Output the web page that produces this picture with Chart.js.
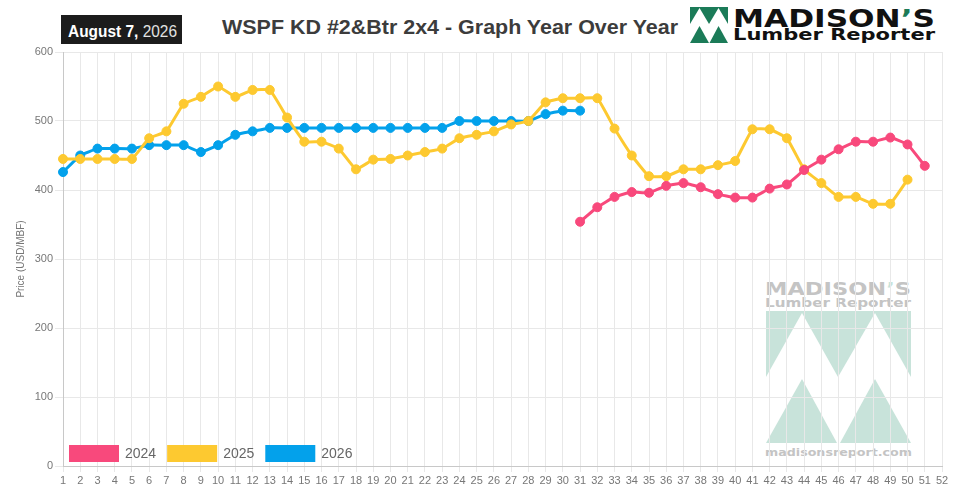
<!DOCTYPE html>
<html>
<head>
<meta charset="utf-8">
<script src="https://cdn.jsdelivr.net/npm/chart.js@4.4.1/dist/chart.umd.min.js"></script>
<style>
  html, body { margin: 0; padding: 0; background: #ffffff; }
  #wrap { position: relative; width: 960px; height: 496px; overflow: hidden; }
  #overlay { position: absolute; left: 0; top: 0; width: 960px; height: 496px; z-index: 0; }
  #chartBox { position: absolute; left: 0; top: 0; width: 960px; height: 496px; z-index: 1; }
</style>
</head>
<body>
<div id="wrap">
  <svg id="overlay" width="960" height="496" viewBox="0 0 960 496" xmlns="http://www.w3.org/2000/svg">
    <!-- date badge -->
    <rect x="61" y="15" width="121" height="29" fill="#1c1c1c"/>
    <text x="68" y="36.5" font-family="Liberation Sans, Arial, sans-serif" font-size="16.5" fill="#ffffff" textLength="109" lengthAdjust="spacingAndGlyphs"><tspan font-weight="bold">August 7,</tspan><tspan fill="#e2e2e2"> 2026</tspan></text>
    <!-- title -->
    <text x="222" y="34" font-family="Liberation Sans, Arial, sans-serif" font-size="21" font-weight="bold" fill="#3c3c3c" textLength="456" lengthAdjust="spacingAndGlyphs">WSPF KD #2&amp;Btr 2x4 - Graph Year Over Year</text>
    <!-- header logo icon -->
    <g>
      <rect x="690" y="7" width="38" height="17" fill="#1b7b58"/>
      <polygon points="690,24 699.5,8 709,24" fill="#ffffff"/>
      <polygon points="709,24 718.5,8 728,24" fill="#ffffff"/>
      <polygon points="690,43 699.5,26 709,43" fill="#1b7b58"/>
      <polygon points="709.5,43 718.5,26 728,43" fill="#1b7b58"/>
    </g>
    <text x="733" y="27" font-family="DejaVu Sans, sans-serif" font-size="25" font-weight="bold" fill="#111" textLength="202" lengthAdjust="spacingAndGlyphs">MADISON<tspan fill="#1b7b58">’</tspan>S</text>
    <text x="733" y="40" font-family="DejaVu Sans, sans-serif" font-size="16" font-weight="bold" fill="#111" textLength="202" lengthAdjust="spacingAndGlyphs">Lumber Reporter</text>
    <!-- watermark -->
    <g>
      <text x="765" y="295" font-family="DejaVu Sans, sans-serif" font-size="17" font-weight="bold" fill="#c4c4c4" textLength="146" lengthAdjust="spacingAndGlyphs">MADISON<tspan fill="#c8e3da">’</tspan>S</text>
      <text x="765" y="307" font-family="DejaVu Sans, sans-serif" font-size="12" font-weight="bold" fill="#c4c4c4" textLength="146" lengthAdjust="spacingAndGlyphs">Lumber Reporter</text>
      <rect x="766" y="311" width="145" height="66" fill="#c8e3da"/>
      <polygon points="766,377 802,313 838,377" fill="#ffffff"/>
      <polygon points="838,377 875,313 911,377" fill="#ffffff"/>
      <polygon points="766,443 802,379 837,443" fill="#c8e3da"/>
      <polygon points="840,443 875,379 911,443" fill="#c8e3da"/>
      <line x1="838.5" y1="378" x2="838.5" y2="443" stroke="#c8e3da" stroke-width="1"/>
      <text x="765" y="456" font-family="DejaVu Sans, sans-serif" font-size="11" font-weight="bold" fill="#c4c4c4" textLength="147" lengthAdjust="spacingAndGlyphs">madisonsreport.com</text>
    </g>
  </svg>
  <div id="chartBox"><canvas id="c"></canvas></div>
</div>
<script>
// ---- data ----
const weeks = ["1","2","3","4","5","6","7","8","9","10","11","12","13","14","15","16","17","18","19","20","21","22","23","24","25","26","27","28","29","30","31","32","33","34","35","36","37","38","39","40","41","42","43","44","45","46","47","48","49","50","51","52"];

const yearLabels = ["2024", "2025", "2026"];

const values2024 = [null,null,null,null,null,null,null,null,null,null,
                    null,null,null,null,null,null,null,null,null,null,
                    null,null,null,null,null,null,null,null,null,null,
                    354,375,390,397,396,406,410,404,394,389,
                    389,402,408,429,444,459,470,470,476,466,
                    435,null];

const values2025 = [445,445,445,445,445,475,485,525,535,550,
                    535,545,545,505,470,470,460,430,444,445,
                    450,455,460,475,480,485,495,500,527,533,
                    533,533,489,450,420,420,430,430,436,442,
                    488,488,475,430,410,390,390,380,380,415,
                    null,null];

const values2026 = [426,450,460,460,460,465,465,465,455,465,
                    480,485,490,490,490,490,490,490,490,490,
                    490,490,490,500,500,500,500,500,510,515,
                    515];

const yTicks = [0, 100, 200, 300, 400, 500, 600];

const seriesColors = ["#f8497c", "#fdc930", "#03a1eb"];
const seriesValues = [values2024, values2025, values2026];

// ---- in-chart legend plugin ----
const insideLegend = {
  id: 'insideLegend',
  afterDraw(chart) {
    const ctx = chart.ctx;
    const area = chart.chartArea;
    ctx.save();
    ctx.font = '14px "Liberation Sans", Arial, sans-serif';
    ctx.textBaseline = 'middle';
    let x = area.left + 6;
    const boxW = 50, boxH = 17;
    const y = area.bottom - 21;
    chart.data.datasets.forEach(ds => {
      ctx.fillStyle = ds.borderColor;
      ctx.fillRect(x, y, boxW, boxH);
      x += boxW + 6;
      ctx.fillStyle = '#666';
      ctx.fillText(ds.label, x, y + boxH / 2 + 1);
      x += ctx.measureText(ds.label).width + 11;
    });
    ctx.restore();
  }
};

new Chart(document.getElementById('c'), {
  type: 'line',
  data: {
    labels: weeks,
    datasets: yearLabels.map((lab, i) => ({
      label: lab,
      data: seriesValues[i],
      borderColor: seriesColors[i],
      backgroundColor: seriesColors[i],
      pointBackgroundColor: seriesColors[i],
      pointBorderColor: seriesColors[i],
      borderWidth: 3,
      pointRadius: 4.5,
      pointBorderWidth: 1,
      tension: 0.1,
      spanGaps: false,
      fill: false
    }))
  },
  options: {
    responsive: true,
    maintainAspectRatio: false,
    animation: false,
    layout: { padding: { top: 52, right: 18, left: 0, bottom: 0 } },
    plugins: {
      legend: { display: false },
      title: { display: false },
      tooltip: { enabled: false }
    },
    scales: {
      x: {
        grid: { color: '#e8e8e8', tickLength: 6 },
        border: { color: '#c8c8c8' },
        ticks: {
          color: '#777',
          font: { size: 11, family: '"Liberation Sans", Arial, sans-serif' },
          maxRotation: 0,
          autoSkip: false,
          padding: 2
        },
        afterFit(s) { s.height = 30; }
      },
      y: {
        min: yTicks[0],
        max: yTicks[yTicks.length - 1],
        afterBuildTicks(s) { s.ticks = yTicks.map(v => ({ value: v })); },
        grid: { color: '#e8e8e8', tickLength: 8 },
        border: { color: '#c8c8c8' },
        ticks: {
          color: '#777',
          font: { size: 11, family: '"Liberation Sans", Arial, sans-serif' },
          padding: 2
        },
        title: {
          display: true,
          text: 'Price (USD/MBF)',
          color: '#777',
          font: { size: 10, family: '"Liberation Sans", Arial, sans-serif' },
          padding: { top: 15, bottom: 0 }
        },
        afterFit(s) { s.width = 63; }
      }
    }
  },
  plugins: [insideLegend]
});
</script>
</body>
</html>
